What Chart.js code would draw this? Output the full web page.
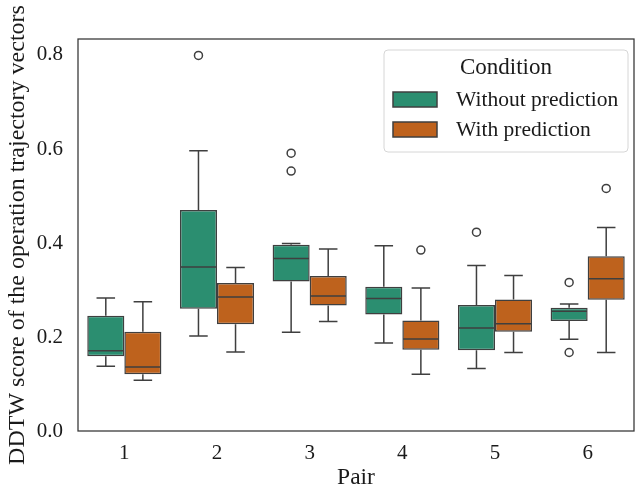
<!DOCTYPE html>
<html lang="en">
<head>
<meta charset="UTF-8">
<title>DDTW score by pair</title>
<script src="https://cdn.jsdelivr.net/npm/chart.js"></script>
<style>
    html, body { margin: 0; padding: 0; background: white; }
    .chart-container { width: 635px; height: 492px; }
</style>
</head>
<body>
<div class="chart-container">
    <canvas id="boxChart"></canvas>
</div>
<script>
    // categories and ticks
    const pairs = ['1', '2', '3', '4', '5', '6'];
    const yTicks = [0.0, 0.2, 0.4, 0.6, 0.8];

    // Without prediction (whisker low, q1, median, q3, whisker high, outliers)
    const woMin = [0.138, 0.202, 0.210, 0.187, 0.133, 0.195];
    const woQ1  = [0.159, 0.260, 0.318, 0.248, 0.172, 0.234];
    const woMed = [0.171, 0.349, 0.367, 0.282, 0.219, 0.255];
    const woQ3  = [0.245, 0.470, 0.396, 0.307, 0.268, 0.262];
    const woMax = [0.283, 0.596, 0.399, 0.394, 0.352, 0.270];
    const woOut = [[], [0.799], [0.591, 0.553], [], [0.423], [0.316, 0.167]];

    // With prediction
    const wMin = [0.108, 0.168, 0.233, 0.121, 0.167, 0.167];
    const wQ1  = [0.121, 0.227, 0.267, 0.173, 0.211, 0.279];
    const wMed = [0.136, 0.285, 0.287, 0.196, 0.228, 0.324];
    const wQ3  = [0.211, 0.315, 0.330, 0.235, 0.280, 0.372];
    const wMax = [0.275, 0.348, 0.387, 0.304, 0.331, 0.433];
    const wOut = [[], [], [], [0.385], [], [0.516]];

    const greenFill = '#2b8e70';
    const orangeFill = '#be621d';
    const lineColor = '#3f3f3f';
    const textColor = '#1a1a1a';
    const fontFamily = '"Liberation Serif", "DejaVu Serif", serif';

    const stats = [
        { min: woMin, med: woMed, max: woMax, out: woOut },
        { min: wMin, med: wMed, max: wMax, out: wOut }
    ];

    // whiskers, medians, outliers, frame and legend
    const boxExtras = {
        id: 'boxExtras',
        afterDatasetsDraw(chart) {
            const ctx = chart.ctx;
            const yScale = chart.scales.y;
            ctx.save();
            ctx.strokeStyle = lineColor;
            ctx.lineWidth = 1.5;
            stats.forEach((s, di) => {
                const meta = chart.getDatasetMeta(di);
                meta.data.forEach((bar, i) => {
                    const p = bar.getProps(['x', 'y', 'base', 'width'], true);
                    const x = p.x, half = p.width / 2, cap = p.width / 4;
                    const top = Math.min(p.y, p.base), bottom = Math.max(p.y, p.base);
                    const yMin = yScale.getPixelForValue(s.min[i]);
                    const yMax = yScale.getPixelForValue(s.max[i]);
                    const yMed = yScale.getPixelForValue(s.med[i]);
                    ctx.beginPath();
                    // upper whisker
                    ctx.moveTo(x, top); ctx.lineTo(x, yMax);
                    ctx.moveTo(x - cap, yMax); ctx.lineTo(x + cap, yMax);
                    // lower whisker
                    ctx.moveTo(x, bottom); ctx.lineTo(x, yMin);
                    ctx.moveTo(x - cap, yMin); ctx.lineTo(x + cap, yMin);
                    // median
                    ctx.moveTo(x - half + 0.75, yMed); ctx.lineTo(x + half - 0.75, yMed);
                    ctx.stroke();
                    // outliers
                    s.out[i].forEach(v => {
                        ctx.beginPath();
                        ctx.arc(x, yScale.getPixelForValue(v), 4, 0, Math.PI * 2);
                        ctx.stroke();
                    });
                });
            });
            ctx.restore();
        },
        afterDraw(chart) {
            const ctx = chart.ctx;
            const a = chart.chartArea;
            ctx.save();
            // frame
            ctx.strokeStyle = '#333333';
            ctx.lineWidth = 1.25;
            ctx.strokeRect(a.left, a.top, a.right - a.left, a.bottom - a.top);

            // legend
            const lw = 244, lh = 102;
            const lx = a.right - lw - 6, ly = a.top + 11;
            ctx.beginPath();
            ctx.roundRect(lx, ly, lw, lh, 4);
            ctx.fillStyle = 'rgba(255,255,255,0.85)';
            ctx.fill();
            ctx.strokeStyle = '#d6d6d6';
            ctx.lineWidth = 1;
            ctx.stroke();

            ctx.fillStyle = textColor;
            ctx.font = '23px ' + fontFamily;
            ctx.textAlign = 'center';
            ctx.textBaseline = 'middle';
            ctx.fillText('Condition', lx + 122, ly + 18);

            ctx.textAlign = 'left';
            ctx.font = '21.5px ' + fontFamily;
            chart.data.datasets.forEach((ds, k) => {
                const cy = ly + 49.5 + k * 30;
                ctx.fillStyle = ds.backgroundColor;
                ctx.fillRect(lx + 9, cy - 7.5, 44, 15);
                ctx.strokeStyle = lineColor;
                ctx.lineWidth = 1.5;
                ctx.strokeRect(lx + 9, cy - 7.5, 44, 15);
                ctx.fillStyle = textColor;
                ctx.fillText(ds.label, lx + 72, cy + 1);
            });
            ctx.restore();
        }
    };

    const ctx = document.getElementById('boxChart').getContext('2d');
    new Chart(ctx, {
        type: 'bar',
        data: {
            labels: pairs,
            datasets: [
                {
                    label: 'Without prediction',
                    data: pairs.map((_, i) => [woQ1[i], woQ3[i]]),
                    backgroundColor: greenFill,
                    borderColor: lineColor,
                    borderWidth: 1.5,
                    borderSkipped: false,
                    categoryPercentage: 0.8,
                    barPercentage: 1.0
                },
                {
                    label: 'With prediction',
                    data: pairs.map((_, i) => [wQ1[i], wQ3[i]]),
                    backgroundColor: orangeFill,
                    borderColor: lineColor,
                    borderWidth: 1.5,
                    borderSkipped: false,
                    categoryPercentage: 0.8,
                    barPercentage: 1.0
                }
            ]
        },
        options: {
            responsive: true,
            maintainAspectRatio: false,
            animation: false,
            layout: { padding: { top: 39, right: 1, left: 0, bottom: 0 } },
            plugins: {
                legend: { display: false },
                tooltip: { enabled: false }
            },
            scales: {
                x: {
                    grid: { display: false, drawTicks: false },
                    border: { display: false },
                    ticks: { color: textColor, padding: 10, font: { family: fontFamily, size: 21 } },
                    title: {
                        display: true, text: 'Pair', color: textColor,
                        font: { family: fontFamily, size: 23.5 },
                        padding: { top: 0, bottom: 0 }
                    },
                    afterFit(scale) { scale.height = 61; }
                },
                y: {
                    min: 0,
                    max: 0.834,
                    grid: { display: false, drawTicks: false },
                    border: { display: false },
                    afterBuildTicks(scale) { scale.ticks = yTicks.map(v => ({ value: v })); },
                    ticks: {
                        color: textColor, padding: 15,
                        font: { family: fontFamily, size: 21 },
                        callback: v => v.toFixed(1)
                    },
                    title: {
                        display: true, text: 'DDTW score of the operation trajectory vectors', color: textColor,
                        font: { family: fontFamily, size: 24 },
                        padding: { top: 3, bottom: 0 }
                    },
                    afterFit(scale) { scale.width = 78; }
                }
            }
        },
        plugins: [boxExtras]
    });
</script>
</body>
</html>
